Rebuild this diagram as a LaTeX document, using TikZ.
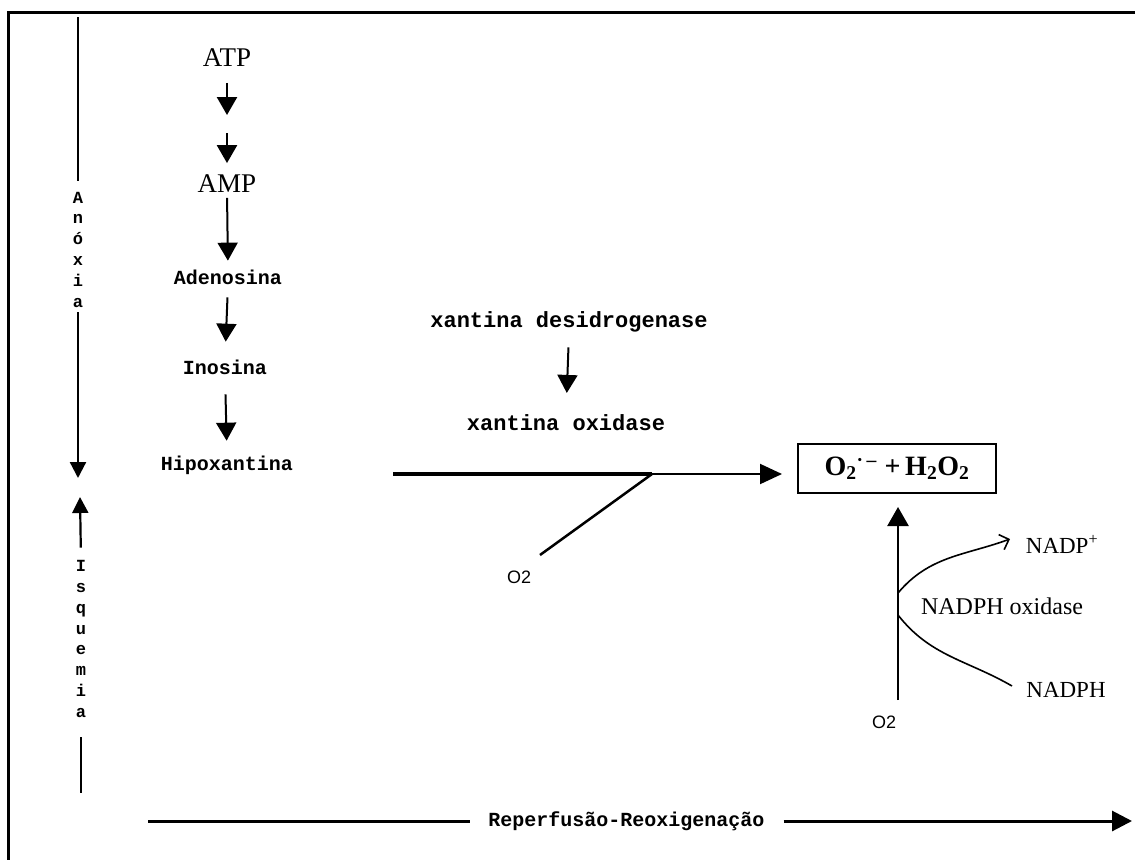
\documentclass[tikz,border=0pt]{standalone}
\usepackage{fontspec}
\setmainfont{Liberation Serif}
\newfontfamily\cour{Liberation Mono}
\newfontfamily\helv{Liberation Sans}
\usetikzlibrary{arrows.meta}
\begin{document}
\begin{tikzpicture}[x=1pt,y=-1pt,
  every node/.style={inner sep=0pt, outer sep=0pt},
  bigserif/.style={font=\fontsize{27}{30}\selectfont},
  nadfont/.style={font=\fontsize{23}{27}\selectfont},
  monotext/.style={font=\cour\bfseries\fontsize{20}{24}\selectfont},
  monobig/.style={font=\cour\bfseries\fontsize{22}{26}\selectfont},
  vletters/.style={font=\cour\bfseries\fontsize{17}{20.8}\selectfont, align=center},
  oxlabel/.style={font=\helv\fontsize{18}{22}\selectfont},
  axisline/.style={line width=2.2pt},
  colarrow/.style={line width=2.5pt, -{Triangle[width=20pt,length=18pt]}},
  headA/.style={-{Triangle[width=16pt,length=16pt]}},
]
\useasboundingbox (0,0) rectangle (1135,860);
% frame
\coordinate (fTR) at (1135,12);
\coordinate (fTL) at (8,12);
\coordinate (fBL) at (8,860);
\draw[line width=3pt] (fTR) -- (fTL) -- (fBL);

% Anoxia axis
\node[vletters] (anox) at (78,249.5) {A\\n\\ó\\x\\i\\a};
\coordinate (anTop) at (78,17);
\coordinate (anBot) at (78,478);
\draw[axisline, shorten >=11pt] (anTop) -- (anox.north);
\draw[axisline, headA, shorten <=5pt] (anox.south) -- (anBot);

% Isquemia axis
\node[vletters] (isq) at (81,639) {I\\s\\q\\u\\e\\m\\i\\a};
\coordinate (isTop) at (80,497);
\coordinate (isBot) at (81,793);
\draw[axisline, headA, shorten <=13pt] (isq.north) -- (isTop);
\draw[axisline, shorten <=20pt] (isq.south) -- (isBot);

% left column
\node[bigserif] (atp) at (227,58) {ATP};
\node[bigserif] (amp) at (227,184) {AMP};
\node[monotext] (aden) at (228,277) {Adenosina};
\node[monotext] (ino) at (225,367) {Inosina};
\node[monotext] (hipo) at (227,465) {Hipoxantina};
\coordinate (m1) at (227,115);
\coordinate (m2) at (227,133);
\draw[colarrow, shorten <=16pt] (atp.south) -- (m1);
\draw[colarrow, shorten >=12pt] (m2) -- (amp.north);
\draw[colarrow, line width=2pt, shorten <=5pt, shorten >=9pt] (amp.south) -- (aden.north);
\draw[colarrow, line width=2pt, shorten <=13pt, shorten >=18pt] (aden.south) -- (ino.north);
\draw[colarrow, line width=2pt, shorten <=20pt, shorten >=15pt] (ino.south) -- (hipo.north);

% xantina
\node[monobig] (xd) at (569,322) {xantina desidrogenase};
\node[monobig] (xo) at (566,423) {xantina oxidase};
\draw[colarrow, line width=2pt, shorten <=15pt, shorten >=22pt] (xd.south) -- (xo.north);

% product box
\node[draw, line width=2pt, minimum width=198pt, minimum height=49pt,
      font=\bfseries\fontsize{28}{30}\selectfont] (box) at (897,468.5)
  {O\textsubscript{2}\textsuperscript{·\,–}\;+\,H\textsubscript{2}O\textsubscript{2}};

% main horizontal arrow
\coordinate (hstart) at (393,474);
\coordinate (hj) at (652,474);
\coordinate (d0) at (540,555);
\draw[line width=3.2pt] (hstart) -- (hj);
\draw[line width=2pt, -{Triangle[width=20pt,length=22pt]}, shorten >=16pt] (hj) -- (box.west |- hj);
\draw[line width=2.5pt] (d0) -- (hj);
\node[oxlabel] (o2a) at (519,577) {O2};

% NADPH oxidase
\node[oxlabel] (o2b) at (884,722) {O2};
\coordinate (vb) at (898,700);
\coordinate (j1) at (898,593);
\coordinate (j2) at (898,615);
\draw[line width=2.5pt, -{Triangle[width=21pt,length=19pt]}, shorten >=14pt] (vb) -- (box.south -| vb);
\node[nadfont] (nadpp) at (1062,544) {NADP\textsuperscript{+}};
\node[nadfont] (nadph) at (1066,690) {NADPH};
\node[font=\fontsize{24}{28}\selectfont] (nox) at (1002,606) {NADPH oxidase};
\coordinate (e1) at (1010,539);
\coordinate (e2) at (1012,686);
\draw[line width=1.6pt, -{Straight Barb[length=8pt,width=16pt]}] (j1) to[out=50,in=200] (e1);
\draw[line width=1.6pt] (j2) to[out=-52,in=150] (e2);

% reperfusion axis
\node[monotext] (rep) at (626.5,821) {Reperfusão-Reoxigenação};
\coordinate (bl) at (148,821);
\coordinate (br) at (1132,821);
\draw[line width=3pt, shorten >=18pt] (bl) -- (rep.west);
\draw[line width=3pt, -{Triangle[width=20pt,length=20pt]}, shorten <=19pt] (rep.east) -- (br);
\end{tikzpicture}
\end{document}
